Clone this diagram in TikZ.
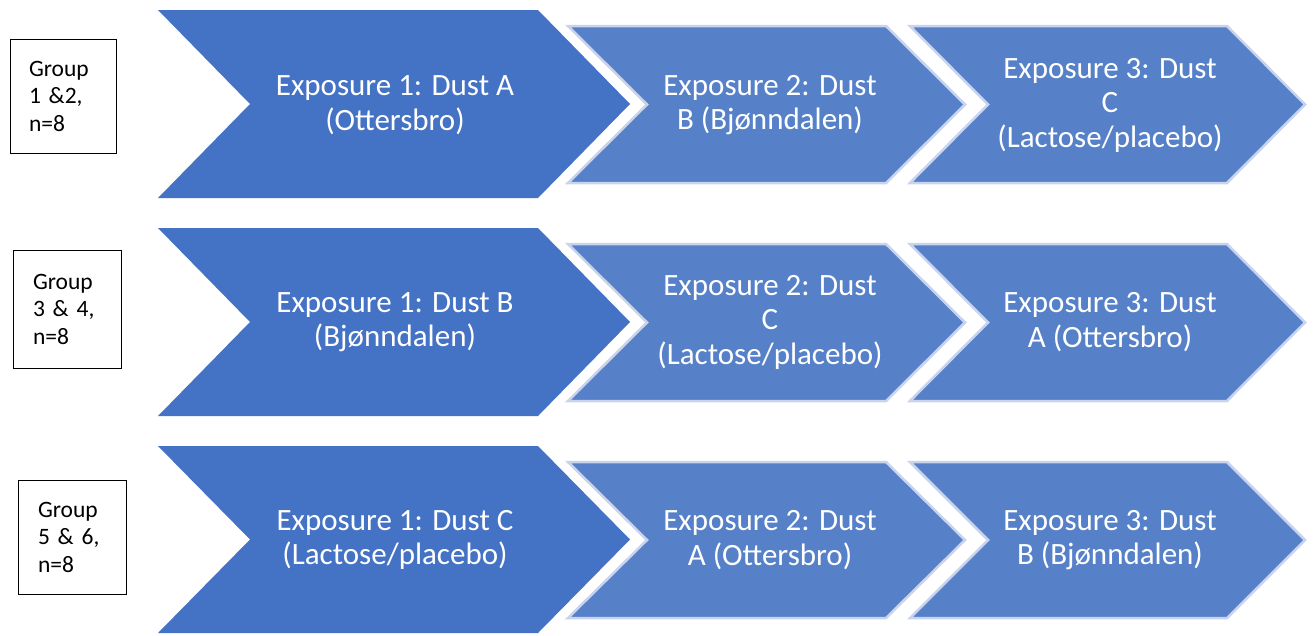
\documentclass[tikz,border=0pt]{standalone}
\usepackage{fontspec}
\setmainfont{Carlito}
\definecolor{darkb}{HTML}{4472C4}
\definecolor{lightb}{HTML}{5681C9}
\definecolor{edgeb}{HTML}{C9D3EB}
\newcommand{\chevshape}[6]{% style, x0, x1, ytop, ybot, depth
  \path[#1] (#2,#4) -- ({#3-#6},#4) -- (#3,{(#4+#5)/2}) -- ({#3-#6},#5) -- (#2,#5) -- ({#2+#6},{(#4+#5)/2}) -- cycle;}
\begin{document}
\begin{tikzpicture}[x=1pt,y=-1pt,
  darkchev/.style={fill=darkb},
  lightchev/.style={fill=lightb,draw=edgeb,line width=2.5pt,line join=miter},
  chtext/.style={align=center,text=white,font=\fontsize{31}{34.5}\selectfont,inner sep=0pt},
  grp/.style={draw=black,line width=1pt,fill=white,align=left,text width=68pt,inner xsep=19pt,
    font=\fontsize{23.5}{27.5}\selectfont}]
\useasboundingbox (0,0) rectangle (1315,635);
\fill[white] (0,0) rectangle (1315,635);

% Row 1
\chevshape{darkchev}{158}{630}{10}{198}{92}
\chevshape{lightchev}{568}{965}{26}{183}{79}
\chevshape{lightchev}{910}{1305}{26}{183}{78}
\node[chtext] (r1a) at (395,105) {Exposure 1: Dust A\\(Ottersbro)};
\node[chtext] (r1b) at (770,105) {Exposure 2: Dust\\B (Bjønndalen)};
\node[chtext] (r1c) at (1110,105) {Exposure 3: Dust\\C\\(Lactose/placebo)};
\node[grp,minimum width=106pt,minimum height=114pt] (g1) at (63,96) {Group\\1 \&2,\\n=8};

% Row 2
\chevshape{darkchev}{158}{630}{228}{416}{92}
\chevshape{lightchev}{568}{965}{244}{401}{79}
\chevshape{lightchev}{910}{1305}{244}{401}{78}
\node[chtext] (r2a) at (395,322) {Exposure 1: Dust B\\(Bjønndalen)};
\node[chtext] (r2b) at (770,322) {Exposure 2: Dust\\C\\(Lactose/placebo)};
\node[chtext] (r2c) at (1110,322) {Exposure 3: Dust\\A (Ottersbro)};
\node[grp,minimum width=108pt,minimum height=118pt] (g2) at (67,309) {Group\\3 \& 4,\\n=8};

% Row 3
\chevshape{darkchev}{158}{630}{446}{633}{92}
\chevshape{lightchev}{568}{965}{462}{618}{79}
\chevshape{lightchev}{910}{1305}{462}{618}{78}
\node[chtext] (r3a) at (395,540) {Exposure 1: Dust C\\(Lactose/placebo)};
\node[chtext] (r3b) at (770,540) {Exposure 2: Dust\\A (Ottersbro)};
\node[chtext] (r3c) at (1110,540) {Exposure 3: Dust\\B (Bjønndalen)};
\node[grp,minimum width=108pt,minimum height=114pt] (g3) at (72,537) {Group\\5 \& 6,\\n=8};
\end{tikzpicture}
\end{document}
